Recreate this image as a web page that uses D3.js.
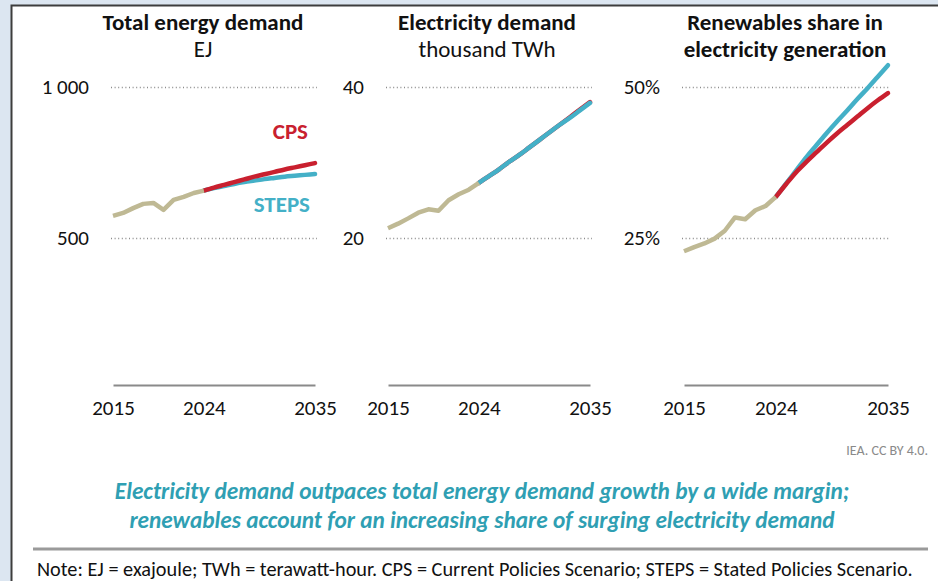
<!DOCTYPE html>
<html>
<head>
<meta charset="utf-8">
<script src="https://cdn.jsdelivr.net/npm/d3@7"></script>
<style>
  html, body { margin: 0; padding: 0; background: #dce6f1; }
  svg { display: block; font-family: Carlito, Lato, "Open Sans", sans-serif; }
</style>
</head>
<body>
<div id="chart"></div>
<script>
// years
var histYears = [2015, 2016, 2017, 2018, 2019, 2020, 2021, 2022, 2023, 2024];
var projYears = [2024, 2025, 2026, 2027, 2028, 2029, 2030, 2031, 2032, 2033, 2034, 2035];
var xTicks = [2015, 2024, 2035];

// total energy demand, EJ
var energyHist = [573, 583, 599, 613, 616, 593, 626, 636, 649, 657];
var energyCPS = [657, 667, 676, 685, 694, 703, 711, 719, 727, 734, 741, 748];
var energySTEPS = [657, 665, 672, 679, 685, 690, 695, 699, 703, 706, 709, 712];

// electricity demand, thousand TWh
var elecHist = [21.3, 21.9, 22.6, 23.35, 23.8, 23.6, 25.0, 25.8, 26.4, 27.3];
var elecCPS = [27.3, 28.2, 29.1, 30.1, 31.0, 32.0, 33.0, 34.0, 35.0, 36.0, 37.0, 38.0];
var elecSTEPS = [27.3, 28.2, 29.1, 30.1, 31.0, 32.0, 33.0, 34.0, 35.0, 35.9, 36.9, 37.9];

// renewables share in generation, %
var renewHist = [22.8, 23.5, 24.1, 24.9, 26.2, 28.4, 28.1, 29.6, 30.3, 31.8];
var renewCPS = [31.8, 33.9, 35.9, 37.6, 39.2, 40.8, 42.3, 43.7, 45.1, 46.5, 47.8, 49.0];
var renewSTEPS = [31.8, 34.0, 36.2, 38.4, 40.4, 42.4, 44.3, 46.1, 48.0, 49.8, 51.7, 53.6];

var W = 938, H = 581;
var colors = { hist: "#bfb994", cps: "#c9202f", steps: "#44b0c7" };

var svg = d3.select("#chart").append("svg")
    .attr("width", W)
    .attr("height", H);

// white card with dark border on left/top
svg.append("rect")
    .attr("x", 11.5).attr("y", 5.5)
    .attr("width", W + 10).attr("height", H + 10)
    .attr("fill", "#fff")
    .attr("stroke", "#3d3d3d")
    .attr("stroke-width", 2);

var panels = [
    { left: 111, right: 317, titleX: 203, title: ["Total energy demand", "EJ"], boldSub: false,
      top: 1000, ticks: [500, 1000], fmt: function(d) { return d === 1000 ? "1 000" : d; },
      hist: energyHist, cps: energyCPS, steps: energySTEPS, stepsOnTop: false, labels: true },
    { left: 386, right: 592, titleX: 487, title: ["Electricity demand", "thousand TWh"], boldSub: false,
      top: 40, ticks: [20, 40], fmt: function(d) { return d; },
      hist: elecHist, cps: elecCPS, steps: elecSTEPS, stepsOnTop: true, labels: false },
    { left: 682, right: 890, titleX: 785, title: ["Renewables share in", "electricity generation"], boldSub: true,
      top: 50, ticks: [25, 50], fmt: function(d) { return d + "%"; },
      hist: renewHist, cps: renewCPS, steps: renewSTEPS, stepsOnTop: false, labels: false }
];

var y0 = 389, yTop = 87, axisY = 385;

panels.forEach(function(p) {
    var g = svg.append("g");
    var x = d3.scaleLinear().domain([2015, 2035]).range([p.left + 2, p.right - 2]);
    var y = d3.scaleLinear().domain([0, p.top]).range([y0, yTop]);

    // titles
    g.append("text")
        .attr("x", p.titleX).attr("y", 30)
        .attr("text-anchor", "middle")
        .attr("font-size", 23).attr("font-weight", "bold")
        .attr("fill", "#111")
        .text(p.title[0]);
    g.append("text")
        .attr("x", p.titleX).attr("y", 57)
        .attr("text-anchor", "middle")
        .attr("font-size", 23).attr("font-weight", p.boldSub ? "bold" : "normal")
        .attr("fill", "#111")
        .text(p.title[1]);

    // y grid + labels
    var yAxis = g.append("g")
        .attr("transform", "translate(" + p.left + ",0)")
        .call(d3.axisLeft(y).tickValues(p.ticks).tickFormat(p.fmt)
            .tickSize(-(p.right - p.left)).tickPadding(22))
        .attr("font-family", null)
        .attr("font-size", 21);
    yAxis.select(".domain").remove();
    yAxis.selectAll("line")
        .attr("stroke", "#8c8c8c")
        .attr("stroke-width", 1.3)
        .attr("stroke-dasharray", "1,2.6");
    yAxis.selectAll("text")
        .attr("fill", "#111");

    // x axis
    var xAxis = g.append("g")
        .attr("transform", "translate(0," + axisY + ")")
        .call(d3.axisBottom(x).tickValues(xTicks).tickFormat(d3.format("d"))
            .tickSize(0).tickPadding(15))
        .attr("font-family", null)
        .attr("font-size", 21);
    xAxis.select(".domain")
        .attr("stroke", "#8a8a8a")
        .attr("stroke-width", 2);
    xAxis.selectAll("text")
        .attr("fill", "#111");

    var line = d3.line()
        .x(function(d) { return x(d[0]); })
        .y(function(d) { return y(d[1]); })
        .curve(d3.curveMonotoneX);

    function series(yrs, vals) {
        return yrs.map(function(yr, i) { return [yr, vals[i]]; });
    }

    var order = p.stepsOnTop ? ["cps", "steps"] : ["steps", "cps"];
    order.forEach(function(k) {
        g.append("path")
            .datum(series(projYears, p[k]))
            .attr("d", line)
            .attr("fill", "none")
            .attr("stroke", colors[k])
            .attr("stroke-width", 4.5)
            .attr("stroke-linecap", "round");
    });
    g.append("path")
        .datum(series(histYears, p.hist))
        .attr("d", d3.line()
            .x(function(d) { return x(d[0]); })
            .y(function(d) { return y(d[1]); }))
        .attr("fill", "none")
        .attr("stroke", colors.hist)
        .attr("stroke-width", 4.5)
        .attr("stroke-linejoin", "round");

    if (p.labels) {
        g.append("text")
            .attr("x", p.right - 9).attr("y", 139)
            .attr("text-anchor", "end")
            .attr("font-size", 23).attr("font-weight", "bold")
            .attr("fill", colors.cps)
            .text("CPS");
        g.append("text")
            .attr("x", p.right - 7).attr("y", 212)
            .attr("text-anchor", "end")
            .attr("font-size", 23).attr("font-weight", "bold")
            .attr("fill", colors.steps)
            .text("STEPS");
    }
});

// source
svg.append("text")
    .attr("x", 928).attr("y", 455)
    .attr("text-anchor", "end")
    .attr("font-size", 14)
    .attr("fill", "#8a8a8a")
    .text("IEA. CC BY 4.0.");

// key message
var msg = ["Electricity demand outpaces total energy demand growth by a wide margin;",
           "renewables account for an increasing share of surging electricity demand"];
svg.selectAll(".msg")
    .data(msg)
    .enter().append("text")
    .attr("class", "msg")
    .attr("x", 482)
    .attr("y", function(d, i) { return 499 + i * 29; })
    .attr("text-anchor", "middle")
    .attr("font-size", 23.3)
    .attr("font-weight", "bold")
    .attr("font-style", "italic")
    .attr("fill", "#2f9fb3")
    .text(function(d) { return d; });

svg.append("line")
    .attr("x1", 33).attr("x2", 928)
    .attr("y1", 549).attr("y2", 549)
    .attr("stroke", "#9a9a9a")
    .attr("stroke-width", 3);

svg.append("text")
    .attr("x", 37).attr("y", 576)
    .attr("font-size", 20.3)
    .attr("fill", "#111")
    .text("Note: EJ = exajoule; TWh = terawatt-hour. CPS = Current Policies Scenario; STEPS = Stated Policies Scenario.");
</script>
</body>
</html>
